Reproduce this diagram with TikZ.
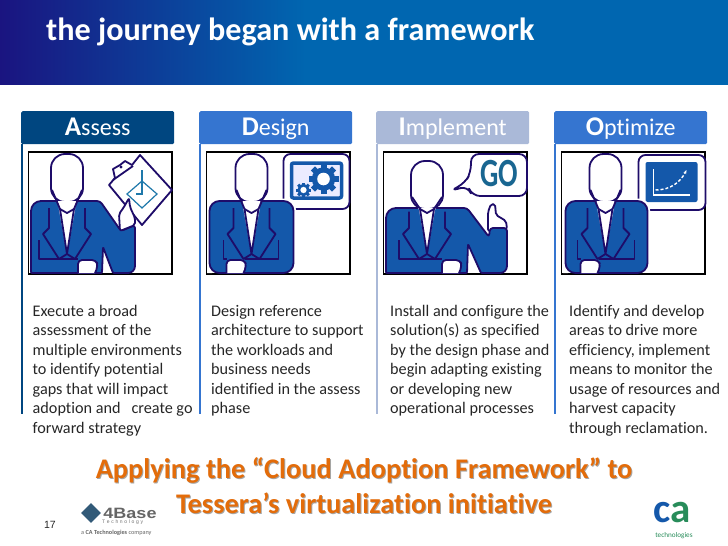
\documentclass[tikz,border=0pt]{standalone}
\usepackage{fontspec}
\setmainfont[Ligatures=CommonOff]{Carlito}
\newfontfamily\arialfont{Liberation Sans}
\usetikzlibrary{shapes.geometric, positioning, calc, arrows.meta}
\definecolor{barnavy}{RGB}{26,20,128}
\definecolor{barblue}{RGB}{0,102,176}
\definecolor{assesscol}{RGB}{0,70,128}
\definecolor{designcol}{RGB}{53,117,208}
\definecolor{implcol}{RGB}{170,185,216}
\definecolor{suitblue}{RGB}{20,88,170}
\definecolor{suitline}{RGB}{30,12,105}
\definecolor{tealink}{RGB}{30,120,170}
\definecolor{orangetxt}{RGB}{227,108,10}
\definecolor{logoslate}{RGB}{50,90,120}
\definecolor{cagreen}{RGB}{40,140,90}
\pgfdeclarehorizontalshading{barshade}{100bp}{color(0bp)=(barnavy); color(25bp)=(barnavy); color(46bp)=(barblue); color(100bp)=(barblue)}
\tikzset{
  headbox/.style={anchor=north west, inner sep=0pt, rounded corners=1.5pt,
    minimum width=153pt, minimum height=33pt, text=white, text height=18pt, text depth=3pt,
    font=\fontsize{24}{26}\selectfont},
  bodytxt/.style={anchor=north west, inner sep=0pt, align=left, text=black!85,
    font=\fontsize{16.2}{19.5}\selectfont},
  orangeline/.style={inner sep=0pt, text=orangetxt, font=\fontsize{28.4}{30}\selectfont\bfseries},
  orangeshade/.style={inner sep=0pt, text=black!35, font=\fontsize{28.4}{30}\selectfont\bfseries},
  inkline/.style={draw=suitline, line width=1.8pt, line join=round},
}
% #1 centre of the figure, #2 drop of the head, #3 left side of the cuff
\newcommand{\suitparts}[3]{
  \draw[inkline, fill=white, rounded corners=14pt] (#1-16,2+#2) rectangle (#1+16,50+#2);
  \fill[white] (#1-9,49+#2) -- (#1+9,49+#2) -- (#1+8,58) -- (#1,102) -- (#1-8,58) -- cycle;
  \draw[inkline] (#1-15,38+#2) -- (#1-7,57) -- (#1,102) -- (#1+7,57) -- (#1+15,38+#2);
  \draw[inkline] (#1-7,57) -- (#1,61) -- (#1+7,57);
  \draw[inkline] (#1-18,56+#2/2) -- (#1-18,76) -- (#1-24,82) -- (#1-8,107) -- (#1,102)
    -- (#1+8,107) -- (#1+24,82) -- (#1+18,76) -- (#1+18,56+#2/2);
  \draw[inkline] (#1-28,88) -- (#1-28,107) -- (#3,107);
  \draw[inkline, fill=white, rounded corners=4pt] (#3,121) -- (#3,108) -- (#3+18,108) -- (#3+20,114) -- (#3+17,121);
}
\newcommand{\gearicon}[3]{
  \foreach \a in {0,45,...,135} {
    \fill[suitblue, rotate around={\a:(#1,#2)}] (#1-#3*0.2,#2-#3) rectangle (#1+#3*0.2,#2+#3);
  }
  \fill[suitblue] (#1,#2) circle (#3*0.78);
  \fill[white] (#1,#2) circle (#3*0.42);
}
\begin{document}
\begin{tikzpicture}[x=1pt, y=-1pt]
  \useasboundingbox (0,0) rectangle (728,546);
  % --- Barra de titulo ---
  \shade[shading=barshade] (0,0) rectangle (728,84);
  \node[anchor=west, inner sep=0pt, text=white, font=\fontsize{32.2}{34}\selectfont\bfseries] (title)
    at (46,32) {the journey began with a framework};
  % --- Colunas ---
  \foreach \x/\c/\f/\r/\n in {21/assesscol/A/ssess/assess, 199/designcol/D/esign/design,
      376/implcol/I/mplement/impl, 554/designcol/O/ptimize/optim} {
    \draw[\c, line width=2pt] (\x+1,144) -- (\x+1,414);
    \node[headbox, fill=\c] (\n) at (\x,111) {\textbf{\fontsize{27}{27}\selectfont\f}\r};
    \draw[black, line width=1.4pt, fill=white] (\x+7.5,152) rectangle (\x+151,274);
  }
  % --- Assess ---
  \begin{scope}[shift={(29,152)}]
    \draw[inkline, fill=white] (80,33) -- (86,26) -- (84,17) -- (91,13) -- (96,9) -- (103,13) -- (111,3)
      -- (143,38) -- (113,73) -- cycle;
    \draw[inkline] (84,28) -- (104,14);
    \fill[suitline] (92,15) circle (1.6);
    \draw[tealink, line width=1.2pt] (98,42) -- (113,29) -- (128,42) -- (113,56) -- cycle;
    \draw[tealink, line width=2pt, fill=none] (113,18) -- (113,42) -- (107,42);
    \draw[inkline, fill=suitblue, rounded corners=10pt] (2,121) -- (2,49) [rounded corners=3pt] -- (71,49) -- (92,79) -- (106,73)
      [rounded corners=7pt] -- (106,121) [rounded corners=1pt] -- (84,121) -- (74,95) -- (73,121) -- cycle;
    \draw[inkline, fill=white, rounded corners=2pt] (91,79) -- (90,62) -- (95,55) -- (100,46) -- (101,55) -- (106,66) -- (106,73) -- cycle;
    \suitparts{38}{0}{49}
  \end{scope}
  % --- Design ---
  \begin{scope}[shift={(206.5,152)}]
    \draw[inkline, fill=white, rounded corners=7pt] (77,2) rectangle (143,57);
    \draw[suitblue, line width=3.5pt, fill=white!92!blue, rounded corners=2pt] (85,11) rectangle (135,46);
    \gearicon{117}{27}{15}
    \gearicon{97}{38}{7.5}
    \draw[white, line width=5pt, rounded corners=9pt] (3,121) -- (3,49) -- (87,49) -- (87,70);
    \draw[inkline, fill=suitblue, rounded corners=10pt] (3,49) rectangle (87,121);
    \suitparts{45}{0}{20}
    \draw[inkline] (72,88) -- (72,107) -- (38,107);
  \end{scope}
  % --- Implement ---
  \begin{scope}[shift={(384,152)}]
    \draw[inkline, fill=white, rounded corners=8pt] (66,39) -- (81,31) -- (87,20) -- (87,2) -- (143,2) -- (143,44)
      -- (88,44) -- (84,34) -- cycle;
    \node[text=tealink!85!black, inner sep=0pt, xscale=0.72, font=\fontsize{40}{40}\selectfont\bfseries] (go) at (115,22) {GO};
    \draw[inkline, fill=white, rounded corners=2pt] (104,79) -- (104,60) -- (107,52) -- (111,52) -- (112,63) -- (122,69) -- (123,77) -- cycle;
    \draw[inkline, fill=suitblue, rounded corners=10pt] (2,121) -- (2,56) [rounded corners=3pt] -- (83,56) -- (105,85) -- (106,76) -- (123,76)
      [rounded corners=7pt] -- (123,121) [rounded corners=1pt] -- (97,121) -- (84,92) -- (83,121) -- cycle;
    \suitparts{43}{7}{58}
  \end{scope}
  % --- Optimize ---
  \begin{scope}[shift={(562.5,152)}]
    \draw[inkline, fill=white, rounded corners=7pt] (76,3) rectangle (143,58);
    \fill[suitblue, rounded corners=2pt] (83,10) rectangle (135,50);
    \draw[white, line width=1.4pt] (91,17) -- (91,43) -- (127,43);
    \draw[white, line width=1.4pt, densely dashed, -{Stealth[length=4pt]}] (93,38) .. controls (108,38) and (118,30) .. (124,18);
    \draw[white, line width=5pt, rounded corners=9pt] (3,121) -- (3,49) -- (85,49) -- (85,70);
    \draw[inkline, fill=suitblue, rounded corners=10pt] (3,49) rectangle (85,121);
    \suitparts{43}{0}{18}
    \draw[inkline] (72,88) -- (72,107) -- (36,107);
  \end{scope}
  % --- Textos ---
  \node[bodytxt] (txtassess) at (32.5,305) {Execute a broad\\assessment of the\\multiple environments\\to identify potential\\gaps that will impact\\adoption and \ \ create go\\forward strategy};
  \node[bodytxt] (txtdesign) at (211,305) {Design reference\\architecture to support\\the workloads and\\business needs\\identified in the assess\\phase};
  \node[bodytxt] (txtimpl) at (390,305) {Install and configure the\\solution(s) as specified\\by the design phase and\\begin adapting existing\\or developing new\\operational processes};
  \node[bodytxt] (txtoptim) at (569,305) {Identify and develop\\areas to drive more\\efficiency, implement\\means to monitor the\\usage of resources and\\harvest capacity\\through reclamation.};
  % --- Chamada laranja ---
  \node[orangeshade] (shadeone) at (365,471) {Applying the “Cloud Adoption Framework” to};
  \node[orangeshade] (shadetwo) at (365,504) {Tessera’s virtualization initiative};
  \node[orangeline] (callone) at (364,470) {Applying the “Cloud Adoption Framework” to};
  \node[orangeline] (calltwo) at (364,503) {Tessera’s virtualization initiative};
  % --- Rodape ---
  \node[inner sep=0pt, font=\arialfont\fontsize{10.5}{12}\selectfont, text=black!85] (pagenum) at (50,525) {17};
  \node[diamond, fill=logoslate, minimum width=20pt, minimum height=20pt, inner sep=0pt] (baseicon) at (91,513) {};
  \node[inner sep=0pt, text=black!60, xscale=1.2, font=\arialfont\fontsize{15}{15}\selectfont\bfseries] (basename) at (130,513) {4Base};
  \node[anchor=west, inner sep=0pt, text=black!55, font=\arialfont\fontsize{5}{5}\selectfont] (basetech) at (102,522.5) {T\,\,e\,\,c\,\,h\,\,n\,\,o\,\,l\,\,o\,\,g\,\,y};
  \node[anchor=west, inner sep=0pt, text=black!60, font=\fontsize{6.2}{7}\selectfont] (basesub) at (81,533) {a \textbf{CA Technologies} company};
  \node[inner sep=0pt, font=\fontsize{41}{41}\selectfont\bfseries] (calogo) at (672,513) {\textcolor{suitblue}{c}\textcolor{cagreen}{a}};
  \node[inner sep=0pt, text=cagreen, font=\fontsize{7.2}{8}\selectfont] (catech) at (674,535.5) {technologies};
\end{tikzpicture}
\end{document}
